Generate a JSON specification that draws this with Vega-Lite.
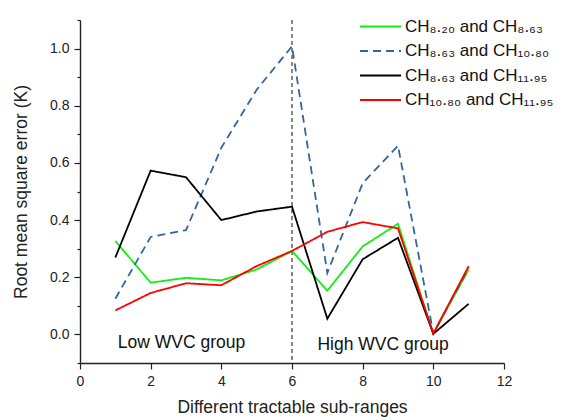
{
  "$schema": "https://vega.github.io/schema/vega-lite/v6.json",
  "width": 424,
  "height": 343,
  "autosize": "none",
  "padding": {"left": 80, "top": 20, "right": 57, "bottom": 57},
  "background": "white",
  "config": {
    "font": "Liberation Sans",
    "view": {"stroke": null},
    "axis": {
      "domainColor": "#222222",
      "domainWidth": 1.4,
      "tickColor": "#222222",
      "tickWidth": 1.2,
      "labelFont": "Liberation Sans",
      "labelFontSize": 14,
      "labelColor": "#222222",
      "titleFont": "Liberation Sans",
      "titleFontSize": 17.5,
      "titleFontWeight": "normal",
      "titleColor": "#222222",
      "grid": false
    }
  },
  "datasets": {
    "rmse": [
      {"sub": 1, "rmse": 0.327, "pair": "CH₈.₂₀ and CH₈.₆₃"},
      {"sub": 2, "rmse": 0.181, "pair": "CH₈.₂₀ and CH₈.₆₃"},
      {"sub": 3, "rmse": 0.198, "pair": "CH₈.₂₀ and CH₈.₆₃"},
      {"sub": 4, "rmse": 0.189, "pair": "CH₈.₂₀ and CH₈.₆₃"},
      {"sub": 5, "rmse": 0.227, "pair": "CH₈.₂₀ and CH₈.₆₃"},
      {"sub": 6, "rmse": 0.292, "pair": "CH₈.₂₀ and CH₈.₆₃"},
      {"sub": 7, "rmse": 0.153, "pair": "CH₈.₂₀ and CH₈.₆₃"},
      {"sub": 8, "rmse": 0.308, "pair": "CH₈.₂₀ and CH₈.₆₃"},
      {"sub": 9, "rmse": 0.387, "pair": "CH₈.₂₀ and CH₈.₆₃"},
      {"sub": 10, "rmse": 0.002, "pair": "CH₈.₂₀ and CH₈.₆₃"},
      {"sub": 11, "rmse": 0.227, "pair": "CH₈.₂₀ and CH₈.₆₃"},

      {"sub": 1, "rmse": 0.125, "pair": "CH₈.₆₃ and CH₁₀.₈₀"},
      {"sub": 2, "rmse": 0.341, "pair": "CH₈.₆₃ and CH₁₀.₈₀"},
      {"sub": 3, "rmse": 0.365, "pair": "CH₈.₆₃ and CH₁₀.₈₀"},
      {"sub": 4, "rmse": 0.653, "pair": "CH₈.₆₃ and CH₁₀.₈₀"},
      {"sub": 5, "rmse": 0.856, "pair": "CH₈.₆₃ and CH₁₀.₈₀"},
      {"sub": 6, "rmse": 1.008, "pair": "CH₈.₆₃ and CH₁₀.₈₀"},
      {"sub": 7, "rmse": 0.215, "pair": "CH₈.₆₃ and CH₁₀.₈₀"},
      {"sub": 8, "rmse": 0.529, "pair": "CH₈.₆₃ and CH₁₀.₈₀"},
      {"sub": 9, "rmse": 0.660, "pair": "CH₈.₆₃ and CH₁₀.₈₀"},
      {"sub": 10, "rmse": 0.004, "pair": "CH₈.₆₃ and CH₁₀.₈₀"},
      {"sub": 11, "rmse": 0.232, "pair": "CH₈.₆₃ and CH₁₀.₈₀"},

      {"sub": 1, "rmse": 0.269, "pair": "CH₈.₆₃ and CH₁₁.₉₅"},
      {"sub": 2, "rmse": 0.573, "pair": "CH₈.₆₃ and CH₁₁.₉₅"},
      {"sub": 3, "rmse": 0.550, "pair": "CH₈.₆₃ and CH₁₁.₉₅"},
      {"sub": 4, "rmse": 0.400, "pair": "CH₈.₆₃ and CH₁₁.₉₅"},
      {"sub": 5, "rmse": 0.430, "pair": "CH₈.₆₃ and CH₁₁.₉₅"},
      {"sub": 6, "rmse": 0.447, "pair": "CH₈.₆₃ and CH₁₁.₉₅"},
      {"sub": 7, "rmse": 0.055, "pair": "CH₈.₆₃ and CH₁₁.₉₅"},
      {"sub": 8, "rmse": 0.263, "pair": "CH₈.₆₃ and CH₁₁.₉₅"},
      {"sub": 9, "rmse": 0.338, "pair": "CH₈.₆₃ and CH₁₁.₉₅"},
      {"sub": 10, "rmse": 0.002, "pair": "CH₈.₆₃ and CH₁₁.₉₅"},
      {"sub": 11, "rmse": 0.107, "pair": "CH₈.₆₃ and CH₁₁.₉₅"},

      {"sub": 1, "rmse": 0.084, "pair": "CH₁₀.₈₀ and CH₁₁.₉₅"},
      {"sub": 2, "rmse": 0.145, "pair": "CH₁₀.₈₀ and CH₁₁.₉₅"},
      {"sub": 3, "rmse": 0.179, "pair": "CH₁₀.₈₀ and CH₁₁.₉₅"},
      {"sub": 4, "rmse": 0.172, "pair": "CH₁₀.₈₀ and CH₁₁.₉₅"},
      {"sub": 5, "rmse": 0.239, "pair": "CH₁₀.₈₀ and CH₁₁.₉₅"},
      {"sub": 6, "rmse": 0.292, "pair": "CH₁₀.₈₀ and CH₁₁.₉₅"},
      {"sub": 7, "rmse": 0.359, "pair": "CH₁₀.₈₀ and CH₁₁.₉₅"},
      {"sub": 8, "rmse": 0.393, "pair": "CH₁₀.₈₀ and CH₁₁.₉₅"},
      {"sub": 9, "rmse": 0.371, "pair": "CH₁₀.₈₀ and CH₁₁.₉₅"},
      {"sub": 10, "rmse": 0.003, "pair": "CH₁₀.₈₀ and CH₁₁.₉₅"},
      {"sub": 11, "rmse": 0.239, "pair": "CH₁₀.₈₀ and CH₁₁.₉₅"}
    ],
    "groups": [
      {"sub": 1.07, "rmse": -0.049, "label": "Low WVC group"},
      {"sub": 6.72, "rmse": -0.053, "label": "High WVC group"}
    ],
    "divider": [
      {"sub": 6}
    ]
  },
  "layer": [
    {
      "data": {"name": "divider"},
      "mark": {"type": "rule", "color": "#111111", "strokeWidth": 1, "strokeDash": [4, 3]},
      "encoding": {
        "x": {"field": "sub", "type": "quantitative", "scale": {"domain": [0, 12]}}
      }
    },
    {
      "data": {"name": "rmse"},
      "mark": {"type": "line", "strokeWidth": 1.8},
      "encoding": {
        "x": {
          "field": "sub",
          "type": "quantitative",
          "title": "Different tractable sub-ranges",
          "scale": {"domain": [0, 12], "nice": false},
          "axis": {
            "values": [0, 1, 2, 3, 4, 5, 6, 7, 8, 9, 10, 11, 12],
            "labelExpr": "datum.value % 2 === 0 ? datum.label : ''",
            "tickSize": {"condition": {"test": "datum.value % 2 === 0", "value": 6}, "value": 3},
            "labelFlush": false,
            "labelPadding": 5,
            "titlePadding": 10
          }
        },
        "y": {
          "field": "rmse",
          "type": "quantitative",
          "title": "Root mean square error (K)",
          "scale": {"domain": [-0.1, 1.1], "nice": false, "zero": false},
          "axis": {
            "tickCount": 12,
            "labelExpr": "(abs(datum.value * 5 - round(datum.value * 5)) < 0.01 && datum.value > -0.05 && datum.value < 1.05) ? format(datum.value, '.1f') : ''",
            "tickSize": {"condition": {"test": "abs(datum.value * 5 - round(datum.value * 5)) < 0.01", "value": 6}, "value": 3},
            "labelPadding": 5,
            "labelOverlap": false,
            "labelFlush": false,
            "titlePadding": 19
          }
        },
        "color": {
          "field": "pair",
          "type": "nominal",
          "scale": {
            "domain": ["CH₈.₂₀ and CH₈.₆₃", "CH₈.₆₃ and CH₁₀.₈₀", "CH₈.₆₃ and CH₁₁.₉₅", "CH₁₀.₈₀ and CH₁₁.₉₅"],
            "range": ["#11ee11", "#33669e", "#000000", "#ff0000"]
          },
          "legend": {
            "title": null,
            "orient": "none",
            "legendX": 279,
            "legendY": -2,
            "padding": 0,
            "symbolType": "stroke",
            "symbolSize": 1681,
            "symbolStrokeWidth": 1.8,
            "clipHeight": 17,
            "labelFont": "Liberation Sans",
            "labelFontSize": 17,
            "labelColor": "#111111",
            "labelOffset": 3,
            "rowPadding": 6.5,
            "labelLimit": 300
          }
        },
        "strokeDash": {
          "field": "pair",
          "type": "nominal",
          "scale": {
            "domain": ["CH₈.₂₀ and CH₈.₆₃", "CH₈.₆₃ and CH₁₀.₈₀", "CH₈.₆₃ and CH₁₁.₉₅", "CH₁₀.₈₀ and CH₁₁.₉₅"],
            "range": [[1, 0], [8, 5], [1, 0], [1, 0]]
          },
          "legend": null
        },
        "order": {"field": "sub", "type": "quantitative"}
      }
    },
    {
      "data": {"name": "groups"},
      "mark": {"type": "text", "align": "left", "baseline": "alphabetic", "fontSize": 17.5, "font": "Liberation Sans", "color": "#111111"},
      "encoding": {
        "x": {"field": "sub", "type": "quantitative"},
        "y": {"field": "rmse", "type": "quantitative"},
        "text": {"field": "label"}
      }
    }
  ]
}
